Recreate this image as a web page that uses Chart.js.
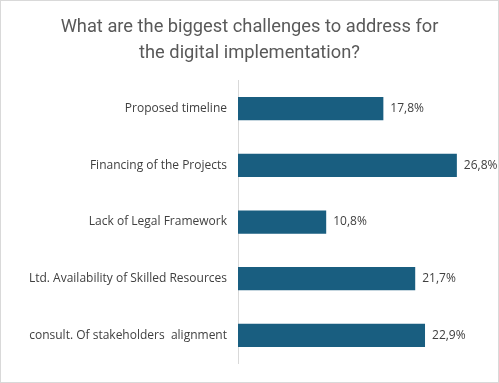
<!DOCTYPE html>
<html><head><meta charset="utf-8">
<script src="https://cdn.jsdelivr.net/npm/chart.js@4/dist/chart.umd.min.js"></script>
<style>
html,body{margin:0;padding:0;background:#fff;}
#wrap{width:497px;height:381px;border:1px solid #d9d9d9;}
</style></head><body>
<div id="wrap"><canvas id="c" width="497" height="381"></canvas></div>
<script>
const categories = ["Proposed timeline","Financing of the Projects","Lack of Legal Framework","Ltd. Availability of Skilled Resources","consult. Of stakeholders  alignment"];
const values = [17.8, 26.8, 10.8, 21.7, 22.9];
const valueLabels = ["17,8%","26,8%","10,8%","21,7%","22,9%"];
const titleLines = ["What are the biggest challenges to address for","the digital implementation?"];

const FONT = "'Open Sans', 'Noto Sans', sans-serif";
const TITLE_FONT = "Roboto, 'Open Sans', sans-serif";

const valuePlugin = {
  id: 'valueLabels',
  afterDatasetsDraw(chart) {
    const ctx = chart.ctx;
    const meta = chart.getDatasetMeta(0);
    ctx.save();
    ctx.font = "12px " + FONT;
    ctx.fillStyle = "#404040";
    ctx.textBaseline = "middle";
    ctx.textAlign = "left";
    meta.data.forEach((bar, i) => {
      ctx.fillText(valueLabels[i], bar.x + 7, bar.y);
    });
    ctx.restore();
  }
};

new Chart(document.getElementById('c'), {
  type: 'bar',
  data: {
    labels: categories,
    datasets: [{
      data: values,
      backgroundColor: '#195e80',
      borderColor: '#2a6d8e',
      borderWidth: 0,
      categoryPercentage: 1,
      barPercentage: 0.41
    }]
  },
  options: {
    indexAxis: 'y',
    responsive: false,
    animation: false,
    layout: { padding: { top: 0, right: 15, bottom: 17, left: 15 } },
    plugins: {
      legend: { display: false },
      tooltip: { enabled: false },
      title: {
        display: true,
        text: titleLines,
        color: '#595959',
        font: { family: TITLE_FONT, size: 18.3, weight: 'normal', lineHeight: 1.4 },
        padding: { top: 14, bottom: 14 }
      }
    },
    scales: {
      x: { display: false, min: 0, max: 30 },
      y: {
        afterFit(scale) { scale.width = 222; },
        grid: { display: false, drawTicks: false },
        border: { display: true, color: '#d9d9d9', width: 1 },
        ticks: { color: '#404040', font: { family: FONT, size: 12 }, padding: 11 }
      }
    }
  },
  plugins: [valuePlugin]
});
</script></body></html>
